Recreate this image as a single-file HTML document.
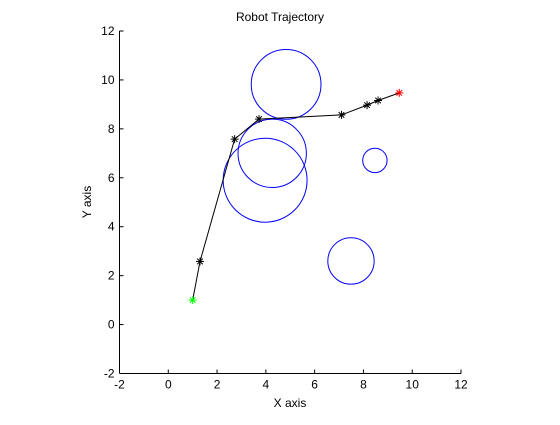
<!DOCTYPE html>
<html><head><meta charset="utf-8"><style>
body{margin:0;background:#fff;}
svg text{font-family:"Liberation Sans",sans-serif;font-size:12px;fill:#000;}
</style></head><body>
<svg id="chart" width="560" height="420">
<rect x="0" y="0" width="560" height="420" fill="#fff"/>
<g id="plot"></g>
</svg>
<script>
const xTicks=[-2,0,2,4,6,8,10,12];
const yTicks=[-2,0,2,4,6,8,10,12];
const pathX=[1,1.3,2.72,3.72,7.1,8.15,8.6,9.47];
const pathY=[1,2.58,7.58,8.4,8.57,8.97,9.16,9.47];
const circleX=[4.83,4.26,3.97,8.47,7.49];
const circleY=[9.82,7.0,5.9,6.71,2.6];
const circleR=[1.43,1.4,1.72,0.5,0.95];
const X0=119.5,X1=461,Y0=373.5,Y1=31,xmin=-2,xmax=12,ymin=-2,ymax=12;
const sx=v=>X0+(v-xmin)/(xmax-xmin)*(X1-X0);
const sy=v=>Y0-(v-ymin)/(ymax-ymin)*(Y0-Y1);
const su=r=>r*(X1-X0)/(xmax-xmin);
const NS="http://www.w3.org/2000/svg";
const g=document.getElementById('plot');
function mk(t,a){const e=document.createElementNS(NS,t);for(const k in a)e.setAttribute(k,a[k]);g.appendChild(e);return e;}
let e=mk('line',{x1:X0,x2:X0,y1:Y1,y2:Y0,stroke:'#000'});


e=mk('line',{x1:X0,x2:X1,y1:Y0,y2:Y0,stroke:'#000'});


xTicks.forEach(v=>{const x=sx(v);
 mk('line',{x1:x,x2:x,y1:Y0,y2:Y0-4,stroke:'#000'});
 const t=mk('text',{x:x,y:Y0+15,'text-anchor':'middle'});t.textContent=v;
 
 });
yTicks.forEach(v=>{const y=sy(v);
 mk('line',{x1:X0,x2:X0+4,y1:y,y2:y,stroke:'#000'});
 const t=mk('text',{x:X0-5,y:y+4,'text-anchor':'end'});t.textContent=v;
 
 });
circleX.forEach((cx,i)=>{const c=mk('circle',{cx:sx(cx),cy:sy(circleY[i]),r:su(circleR[i]),fill:'none',stroke:'#0000ff','stroke-width':1});
 
 });
const pl=mk('polyline',{points:pathX.map((x,i)=>sx(x)+','+sy(pathY[i])).join(' '),fill:'none',stroke:'#000','stroke-width':1});


function star(x,y,col){const s=4;
 const gg=document.createElementNS(NS,'g');g.appendChild(gg);
 [[-s,0,s,0],[0,-s,0,s],[-s*.7,-s*.7,s*.7,s*.7],[-s*.7,s*.7,s*.7,-s*.7]].forEach(a=>{
  const l=document.createElementNS(NS,'line');l.setAttribute('x1',x+a[0]);l.setAttribute('y1',y+a[1]);l.setAttribute('x2',x+a[2]);l.setAttribute('y2',y+a[3]);l.setAttribute('stroke',col);gg.appendChild(l);});
 return gg;}
pathX.forEach((x,i)=>{const col=i===0?'#00ff00':(i===pathX.length-1?'#ff0000':'#000');
 const m=star(sx(x),sy(pathY[i]),col);
 
 });
let t=mk('text',{x:280,y:21,'text-anchor':'middle'});t.textContent='Robot Trajectory';


t=mk('text',{x:290,y:407,'text-anchor':'middle'});t.textContent='X axis';


t=mk('text',{x:91,y:202,'text-anchor':'middle',transform:'rotate(-90 91 202)'});t.textContent='Y axis';


</script>
</body></html>
